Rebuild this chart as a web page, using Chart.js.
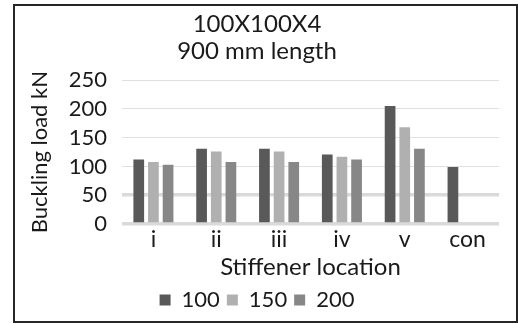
<!DOCTYPE html>
<html>
<head>
<meta charset="utf-8">
<script src="https://cdn.jsdelivr.net/npm/chart.js@4.4.0/dist/chart.umd.min.js"></script>
<style>
  html, body { margin: 0; padding: 0; background: #fff; }
  #frame {
    position: absolute; left: 13px; top: 4px;
    width: 505px; height: 319px;
    box-sizing: border-box; border: 2px solid #262626;
  }
  #chart { display: block; }
</style>
</head>
<body>
<div id="frame"><canvas id="chart" width="501" height="315"></canvas></div>
<script>
// ===== Data =====
const categories = ['i', 'ii', 'iii', 'iv', 'v', 'con'];
const load100 = [112, 131, 131, 121, 205, 99];
const load150 = [108, 126, 126, 117, 168, null];
const load200 = [103, 108, 108, 112, 131, null];
const yTicks  = [0, 50, 100, 150, 200, 250];

const FONT = 'Lato, "Open Sans", sans-serif';
const TEXT = '#1a1a1a';

// 0 and 50 lines are drawn heavier in the original
const heavy = (ctx) => ctx.tick && (ctx.tick.value === 0 || ctx.tick.value === 50);

new Chart(document.getElementById('chart'), {
  type: 'bar',
  data: {
    labels: categories,
    datasets: [
      { label: '100', data: load100, backgroundColor: '#595959' },
      { label: '150', data: load150, backgroundColor: '#b0b0b0' },
      { label: '200', data: load200, backgroundColor: '#878787' },
    ],
  },
  options: {
    responsive: false,
    animation: false,
    devicePixelRatio: 1,
    datasets: { bar: { categoryPercentage: 0.7, barPercentage: 0.73 } },
    layout: { padding: { left: 0, right: 17, top: 4, bottom: 0 } },
    plugins: {
      title: {
        display: true,
        text: ['100X100X4', '900 mm length'],
        color: TEXT,
        font: { family: FONT, size: 24, weight: 'normal', lineHeight: 1.15 },
        padding: { top: 0, bottom: 15 },
      },
      legend: {
        position: 'bottom',
        labels: {
          color: TEXT,
          font: { family: FONT, size: 22 },
          boxWidth: 11, boxHeight: 11,
          padding: 7,
        },
      },
      tooltip: { enabled: false },
    },
    scales: {
      x: {
        afterFit: (s) => { s.height = 58; },
        grid: { display: false, drawTicks: false },
        border: { display: false },
        ticks: { color: TEXT, font: { family: FONT, size: 23 }, padding: 2 },
        title: {
          display: true, text: 'Stiffener location', color: TEXT,
          font: { family: FONT, size: 24 }, padding: { top: 0, bottom: 0 },
        },
      },
      y: {
        min: 0, max: 250,
        afterFit: (s) => { s.width = 107; },
        afterBuildTicks: (axis) => { axis.ticks = yTicks.map(v => ({ value: v })); },
        grid: {
          drawTicks: false,
          color: (ctx) => heavy(ctx) ? '#dadada' : '#e0e0e0',
          lineWidth: (ctx) => heavy(ctx) ? 3.5 : 1,
        },
        border: { display: false },
        ticks: { color: TEXT, font: { family: FONT, size: 22 }, padding: 15, autoSkip: false },
        title: {
          display: true, text: 'Buckling load kN', color: TEXT,
          font: { family: FONT, size: 22 }, padding: { top: 12, bottom: 0 },
        },
      },
    },
  },
});
</script>
</body>
</html>
